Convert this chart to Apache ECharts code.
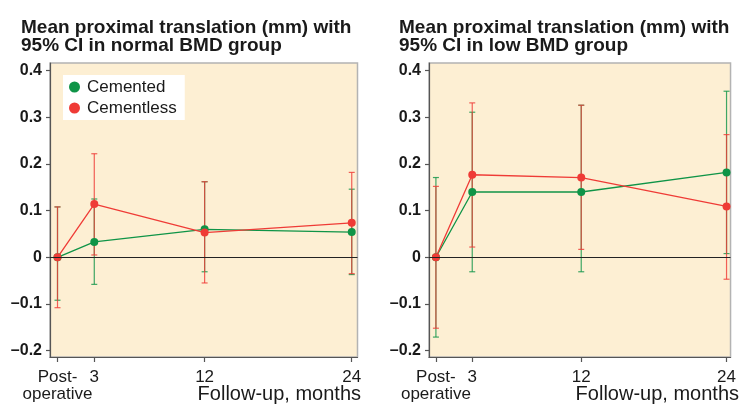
<!DOCTYPE html>
<html>
<head>
<meta charset="utf-8">
<script src="https://cdn.jsdelivr.net/npm/echarts@6/dist/echarts.min.js"></script>
<style>
html,body{margin:0;padding:0;background:#fff;}
#c{width:739px;height:404px;}
</style>
</head>
<body>
<div id="c"></div>
<script>
// ---- data ----
const months = [0, 3, 12, 24];
const xTickLabels = ['Post-\noperative', '3', '12', '24'];
const yTicks = [-0.2, -0.1, 0, 0.1, 0.2, 0.3, 0.4];

const cementedNormalMean = [0, 0.033, 0.060, 0.054];
const cementedNormalLow  = [-0.092, -0.058, -0.031, -0.037];
const cementedNormalHigh = [0.108, 0.125, 0.162, 0.146];
const cementlessNormalMean = [0, 0.114, 0.053, 0.074];
const cementlessNormalLow  = [-0.108, 0.005, -0.055, -0.035];
const cementlessNormalHigh = [0.108, 0.222, 0.162, 0.182];

const cementedLowMean = [0, 0.140, 0.140, 0.182];
const cementedLowLow  = [-0.171, -0.031, -0.031, 0.008];
const cementedLowHigh = [0.171, 0.311, 0.326, 0.356];
const cementlessLowMean = [0, 0.177, 0.171, 0.109];
const cementlessLowLow  = [-0.152, 0.022, 0.017, -0.047];
const cementlessLowHigh = [0.152, 0.331, 0.326, 0.263];

const titles = ['Mean proximal translation (mm) with\n95% CI in normal BMD group',
                'Mean proximal translation (mm) with\n95% CI in low BMD group'];
const xAxisTitle = 'Follow-up, months';
const seriesNames = ['Cemented', 'Cementless'];

// ---- styling ----
const GREEN = '#0f9447';
const RED = '#ef3b36';
const FONT = '"Liberation Sans", Arial, Helvetica, sans-serif';

function pts(mean) { return months.map((m, i) => [m, mean[i]]); }
function errData(mean, lo, hi) { return months.map((m, i) => [m, lo[i], hi[i]]); }
function labelFor(v) { const i = months.indexOf(v); return i >= 0 ? xTickLabels[i] : ''; }

function errSeries(gi, color, mean, lo, hi) {
  return {
    type: 'custom', xAxisIndex: gi * 2, yAxisIndex: gi, silent: true,
    data: errData(mean, lo, hi),
    renderItem: function (params, api) {
      const x = api.value(0);
      const p1 = api.coord([x, api.value(1)]);
      const p2 = api.coord([x, api.value(2)]);
      const hw = 3;
      const st = { stroke: color, lineWidth: 1.2, opacity: 0.8 };
      return {
        type: 'group',
        children: [
          { type: 'line', shape: { x1: p1[0], y1: p1[1], x2: p2[0], y2: p2[1] }, style: st },
          { type: 'line', shape: { x1: p1[0] - hw, y1: p1[1], x2: p1[0] + hw, y2: p1[1] }, style: st },
          { type: 'line', shape: { x1: p2[0] - hw, y1: p2[1], x2: p2[0] + hw, y2: p2[1] }, style: st }
        ]
      };
    }
  };
}
function lineSeries(gi, name, color, mean, withZero) {
  const s = {
    type: 'line', name: name, xAxisIndex: gi * 2, yAxisIndex: gi,
    data: pts(mean), symbol: 'circle', symbolSize: 8, showSymbol: true,
    itemStyle: { color: color }, lineStyle: { color: color, width: 1.3 },
    silent: true
  };
  if (withZero) {
    s.markLine = {
      silent: true, symbol: 'none', label: { show: false },
      lineStyle: { color: '#222', width: 1.2, type: 'solid' },
      data: [{ yAxis: 0 }]
    };
  }
  return s;
}

const grids = [
  { left: 50, top: 63, width: 307.5, height: 294, xmin: -0.612, xmax: 24.47 },
  { left: 429, top: 63, width: 305, height: 294, xmin: -0.571, xmax: 24.33 }
];

const labelStyle = { fontFamily: FONT, fontSize: 17, color: '#1a1a1a', lineHeight: 17 };
const xAxes = [];
grids.forEach((g, gi) => {
  // main axis: line, all ticks, month labels
  xAxes.push({
    type: 'value', gridIndex: gi, min: g.xmin, max: g.xmax, position: 'bottom',
    axisLine: { show: true, onZero: false, lineStyle: { color: '#555', width: 1.2 } },
    axisTick: { show: true, length: 5, lineStyle: { color: '#555', width: 1.2 }, customValues: months },
    axisLabel: Object.assign({ customValues: months.slice(1), margin: 12, formatter: labelFor }, labelStyle),
    splitLine: { show: false }
  });
  // companion axis carrying only the post-operative label
  xAxes.push({
    type: 'value', gridIndex: gi, min: g.xmin, max: g.xmax, position: 'bottom',
    axisLine: { show: false }, axisTick: { show: false },
    axisLabel: Object.assign({ customValues: months.slice(0, 1), margin: 12, formatter: labelFor, showMinLabel: true }, labelStyle),
    splitLine: { show: false }
  });
});

const titleStyle = { fontFamily: FONT, fontSize: 19, fontWeight: 'bold', color: '#1a1a1a', lineHeight: 18 };

const option = {
  animation: false,
  backgroundColor: '#ffffff',
  title: [
    { text: titles[0], left: 21, top: 19, padding: 0, textStyle: titleStyle },
    { text: titles[1], left: 399, top: 19, padding: 0, textStyle: titleStyle }
  ],
  legend: {
    data: seriesNames.map(n => ({ name: n, icon: 'circle' })),
    orient: 'vertical', left: 63, top: 75,
    backgroundColor: '#ffffff', padding: [2, 8, 2, 6],
    itemWidth: 11, itemHeight: 11, itemGap: 1,
    selectedMode: false,
    textStyle: { fontFamily: FONT, fontSize: 17, color: '#1a1a1a', lineHeight: 20, padding: [0, 0, 0, 2] }
  },
  grid: grids.map(g => ({
    left: g.left, top: g.top, width: g.width, height: g.height,
    show: true, backgroundColor: '#fdefd3', borderColor: '#b3b3b3', borderWidth: 1.5
  })),
  xAxis: xAxes,
  yAxis: grids.map((g, gi) => ({
    type: 'value', gridIndex: gi, min: -0.2137, max: 0.4165,
    axisLine: { show: true, onZero: false, lineStyle: { color: '#555', width: 1.2 } },
    axisTick: { show: true, length: 4, lineStyle: { color: '#555', width: 1.2 }, customValues: yTicks },
    axisLabel: {
      customValues: yTicks, margin: 8,
      fontFamily: FONT, fontSize: 16, fontWeight: 'bold', color: '#1a1a1a',
      formatter: function (v) {
        const r = Math.round(v * 10) / 10;
        if (r === 0) return '0';
        return r < 0 ? '\u2013' + Math.abs(r).toFixed(1) : r.toFixed(1);
      }
    },
    splitLine: { show: false }
  })),
  graphic: [
    { type: 'text', x: 361, y: 404, style: { text: xAxisTitle, x: 0, y: 0, textAlign: 'right', textVerticalAlign: 'bottom', fontFamily: FONT, fontSize: 20, fill: '#1a1a1a' } },
    { type: 'text', x: 739, y: 404, style: { text: xAxisTitle, x: 0, y: 0, textAlign: 'right', textVerticalAlign: 'bottom', fontFamily: FONT, fontSize: 20, fill: '#1a1a1a' } }
  ],
  series: [
    errSeries(0, GREEN, cementedNormalMean, cementedNormalLow, cementedNormalHigh),
    lineSeries(0, seriesNames[0], GREEN, cementedNormalMean, true),
    errSeries(0, RED, cementlessNormalMean, cementlessNormalLow, cementlessNormalHigh),
    lineSeries(0, seriesNames[1], RED, cementlessNormalMean, false),
    errSeries(1, GREEN, cementedLowMean, cementedLowLow, cementedLowHigh),
    lineSeries(1, seriesNames[0], GREEN, cementedLowMean, true),
    errSeries(1, RED, cementlessLowMean, cementlessLowLow, cementlessLowHigh),
    lineSeries(1, seriesNames[1], RED, cementlessLowMean, false)
  ]
};

const chart = echarts.init(document.getElementById('c'), null, { renderer: 'canvas' });
chart.setOption(option);
</script>
</body>
</html>
